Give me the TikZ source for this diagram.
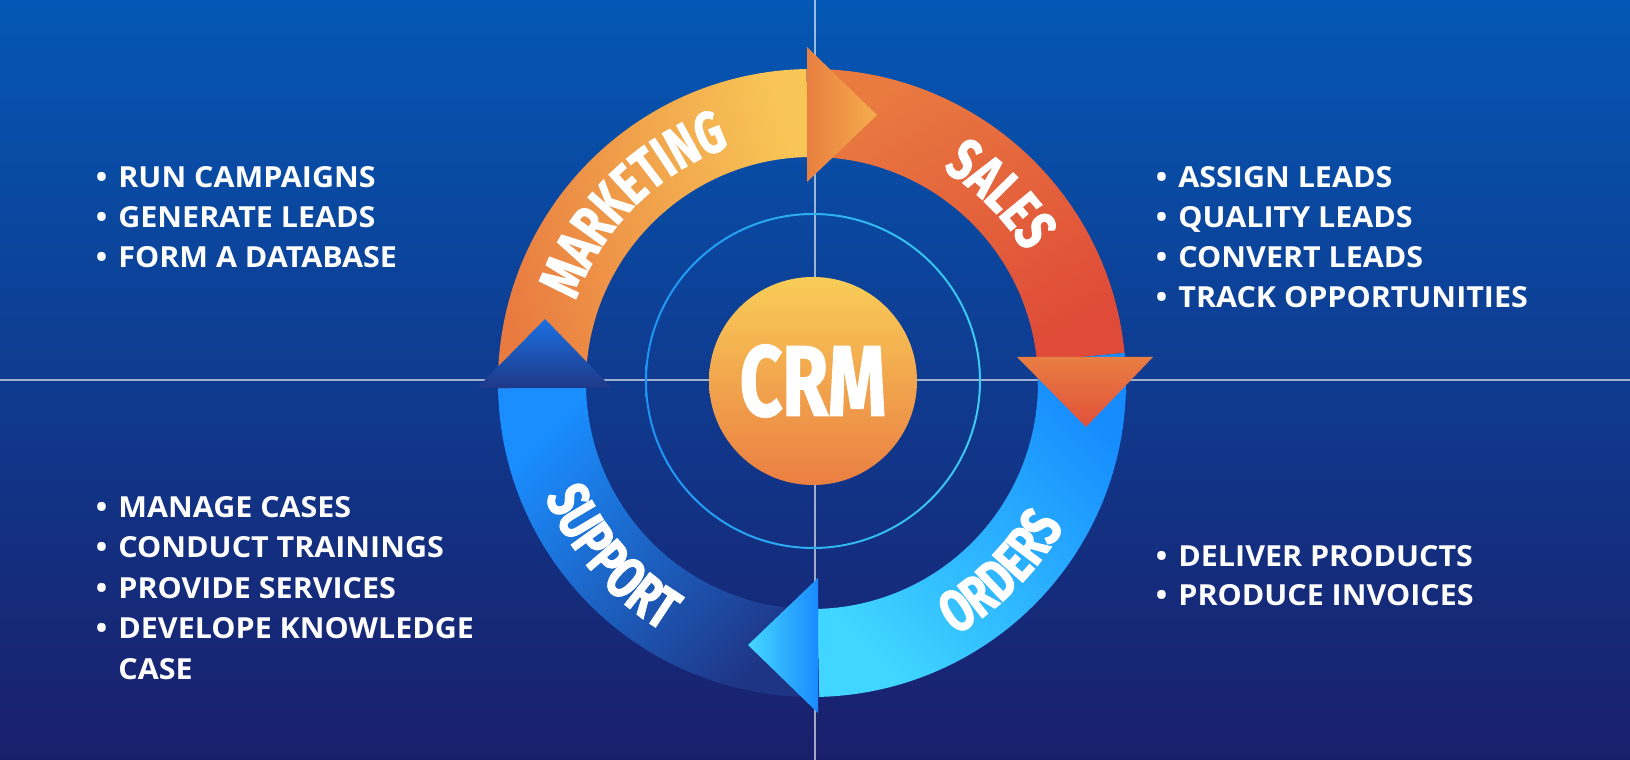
\documentclass[tikz,border=0pt]{standalone}
\usepackage{fontspec}
\usetikzlibrary{calc,decorations.text}
\setmainfont{Open Sans}[FakeStretch=1.05]
\newfontfamily\condfont{Fira Sans}[FakeStretch=0.72, FakeBold=1.5]
\newfontfamily\crmfont{Fira Sans}[FakeStretch=0.74, FakeBold=1.5]
\newcommand\arclabelfont{\condfont\bfseries\fontsize{29.5}{31}\selectfont}
\definecolor{bgtop}{HTML}{0457B4}
\definecolor{bgbot}{HTML}{1A1F6B}
\definecolor{mkL}{HTML}{E97B40}
\definecolor{mkR}{HTML}{F8C656}
\definecolor{mkAL}{HTML}{E97F40}
\definecolor{mkAR}{HTML}{F4AD4C}
\definecolor{saT}{HTML}{E97B40}
\definecolor{saB}{HTML}{DF4B38}
\definecolor{saAT}{HTML}{E97E43}
\definecolor{saAB}{HTML}{E0503A}
\definecolor{orT}{HTML}{168CFF}
\definecolor{orB}{HTML}{40D6FF}
\definecolor{orAL}{HTML}{45D8FF}
\definecolor{orAR}{HTML}{1A8AFF}
\definecolor{suT}{HTML}{1A8EFF}
\definecolor{suB}{HTML}{1E3585}
\definecolor{suAT}{HTML}{1C70E2}
\definecolor{suAB}{HTML}{1E3887}
\definecolor{ringL}{HTML}{1E94F5}
\definecolor{ringR}{HTML}{3CCBEE}
\definecolor{crmT}{HTML}{F9CD58}
\definecolor{crmB}{HTML}{EA7E42}
\tikzset{
  axisline/.style={draw=white, draw opacity=0.6, line width=0.7pt},
  listtext/.style={anchor=base west, text=white, inner sep=0pt,
    font=\bfseries\fontsize{14.5}{16}\selectfont},
  arclabel/.style={decorate, decoration={text along path, text align=center,
    text color=white, text={|\arclabelfont|#1}}}
}
\newcommand\bul{\llap{\textbullet\hspace{5.5pt}}}
\begin{document}
\begin{tikzpicture}[x=0.5pt,y=0.5pt]
\useasboundingbox (0,0) rectangle (1630,760);
\shade[top color=bgtop, bottom color=bgbot] (0,0) rectangle (1630,760);

% guide lines
\coordinate (vt) at (815,760); \coordinate (vb) at (815,0);
\coordinate (hl) at (0,380); \coordinate (hr) at (1630,380);
\draw[axisline] (vt) -- (vb);
\draw[axisline] (hl) -- (hr);

% thin circle
\coordinate (C) at (813,379);
\shade[left color=ringL, right color=ringR, even odd rule]
  (C) circle[radius=168] (C) circle[radius=166];

% ring center
\coordinate (O) at (812,377);

% marketing sector
\shade[left color=mkL, right color=mkR, shading angle=105]
  ($(O)+(91:314)$) arc[start angle=91, end angle=181, radius=314]
  -- ($(O)+(181:226)$) arc[start angle=181, end angle=91, radius=226] -- cycle;
% sales sector
\shade[top color=saT, bottom color=saB, shading angle=30]
  ($(O)+(5.5:314)$) arc[start angle=5.5, end angle=91, radius=314]
  -- ($(O)+(91:226)$) arc[start angle=91, end angle=5.5, radius=226] -- cycle;
% orders sector
\shade[top color=orT, bottom color=orB, shading angle=-45]
  ($(O)+(-88.7:314)$) arc[start angle=-88.7, end angle=5.5, radius=314]
  -- ($(O)+(5.5:226)$) arc[start angle=5.5, end angle=-88.7, radius=226] -- cycle;
% support sector
\shade[top color=suT, bottom color=suB, shading angle=45]
  ($(O)+(181:314)$) arc[start angle=181, end angle=271.3, radius=314]
  -- ($(O)+(271.3:226)$) arc[start angle=271.3, end angle=181, radius=226] -- cycle;

% arrowheads
\shade[left color=mkAL, right color=mkAR] (807,713) -- (877,645) -- (807,578) -- cycle;
\shade[top color=saAT, bottom color=saAB] (1017,403) -- (1153,403) -- (1086,333) -- cycle;
\shade[left color=orAL, right color=orAR] (818,182) -- (818,47) -- (748,115) -- cycle;
\shade[top color=suAT, bottom color=suAB] (477,372) -- (612,372) -- (545,441) -- cycle;

% arc labels
\path[arclabel=MARKETING] ($(O)+(180:250)$) arc[start angle=180, end angle=90, radius=250];
\path[arclabel=SALES] ($(O)+(90:250)$) arc[start angle=90, end angle=0, radius=250];
\path[arclabel=ORDERS] ($(O)+(-90:290)$) arc[start angle=-90, end angle=0, radius=290];
\path[arclabel=SUPPORT] ($(O)+(176:290)$) arc[start angle=176, end angle=266, radius=290];

% CRM
\node[circle, minimum size=104pt, inner sep=0pt, top color=crmT, bottom color=crmB,
  text=white, font=\crmfont\bfseries\fontsize{50}{54}\selectfont] (crm) at (C) {CRM};

% lists
\node[listtext] (tl1) at (118,572) {\bul RUN CAMPAIGNS};
\node[listtext] (tl2) at (118,532) {\bul GENERATE LEADS};
\node[listtext] (tl3) at (118,492) {\bul FORM A DATABASE};

\node[listtext] (tr1) at (1178,572) {\bul ASSIGN LEADS};
\node[listtext] (tr2) at (1178,532) {\bul QUALITY LEADS};
\node[listtext] (tr3) at (1178,492) {\bul CONVERT LEADS};
\node[listtext] (tr4) at (1178,452) {\bul TRACK OPPORTUNITIES};

\node[listtext] (bl1) at (118,242) {\bul MANAGE CASES};
\node[listtext] (bl2) at (118,202) {\bul CONDUCT TRAININGS};
\node[listtext] (bl3) at (118,161) {\bul PROVIDE SERVICES};
\node[listtext] (bl4) at (118,121) {\bul DEVELOPE KNOWLEDGE};
\node[listtext] (bl5) at (118,80) {CASE};

\node[listtext] (br1) at (1178,193) {\bul DELIVER PRODUCTS};
\node[listtext] (br2) at (1178,154) {\bul PRODUCE INVOICES};
\end{tikzpicture}
\end{document}
